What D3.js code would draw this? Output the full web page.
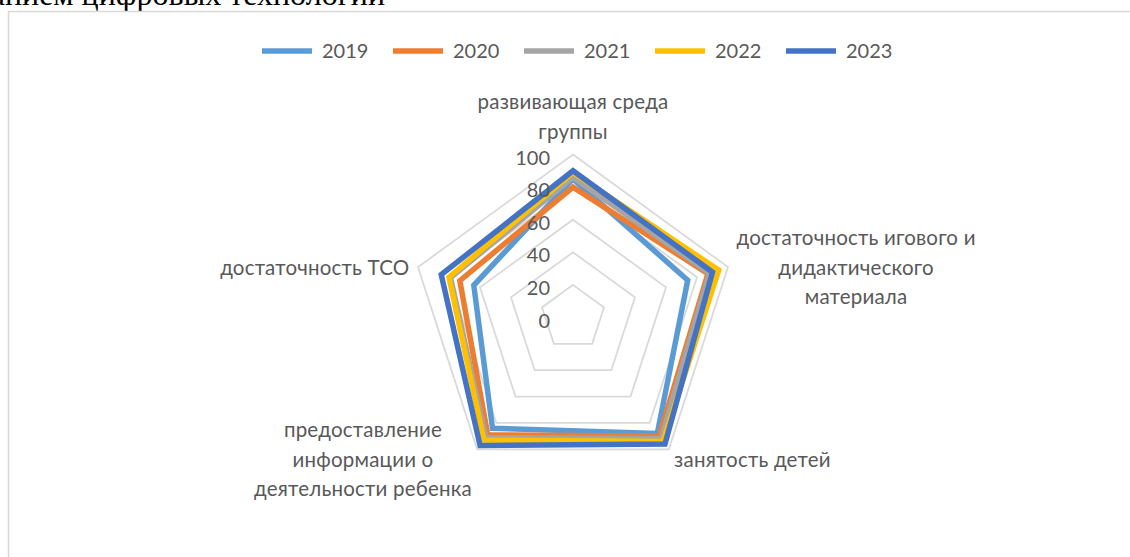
<!DOCTYPE html>
<html>
<head>
<meta charset="utf-8">
<script src="https://cdn.jsdelivr.net/npm/d3@7"></script>
<style>
  body { margin: 0; background: #fff; }
  svg { display: block; }
</style>
</head>
<body>
<div id="chart-area"></div>
<script>
var width = 1130;
var height = 557;

// data
var categories = [
  "развивающая среда\nгруппы",
  "достаточность игового и\nдидактического\nматериала",
  "занятость детей",
  "предоставление\nинформации о\nдеятельности ребенка",
  "достаточность ТСО"
];
var years = ["2019", "2020", "2021", "2022", "2023"];
var v2019 = [85, 74, 88, 84, 64];
var v2020 = [80, 87, 90, 89, 73];
var v2021 = [86, 88, 92, 91, 79];
var v2022 = [89, 94, 94, 93, 80];
var v2023 = [90, 90, 96, 97, 85];
var tickValues = [0, 20, 40, 60, 80, 100];
var colors = ["#5B9BD5", "#ED7D31", "#A5A5A5", "#FFC000", "#4472C4"];

var series = [v2019, v2020, v2021, v2022, v2023];

var cx = 573, cy = 317.5;
var textColor = "#595959";
var font = "Lato, sans-serif";

const svg = d3.select("#chart-area")
  .append("svg")
    .attr("width", width)
    .attr("height", height);

// title (cut off above the chart)
svg.append("text")
  .attr("x", 385)
  .attr("y", 5)
  .attr("text-anchor", "end")
  .style("font-family", "'Liberation Serif', 'Times New Roman', serif")
  .style("font-size", "32px")
  .attr("fill", "#000")
  .text("использованием цифровых технологий");

// chart border
svg.append("rect")
  .attr("x", 8.5).attr("y", 11.5)
  .attr("width", 1300).attr("height", 700)
  .attr("fill", "none")
  .attr("stroke", "#d9d9d9")
  .attr("stroke-width", 1.5);

const g = svg.append("g")
  .attr("transform", "translate(" + cx + "," + cy + ")");

//Scales
var r = d3.scaleLinear()
  .domain([0, 100])
  .range([0, 163]);

var angle = d3.scalePoint()
  .domain(d3.range(categories.length))
  .range([0, 2 * Math.PI * (categories.length - 1) / categories.length]);

var radar = d3.lineRadial()
  .angle((d, i) => angle(i))
  .radius(d => r(d))
  .curve(d3.curveLinearClosed);

// grid
tickValues.slice(1).forEach(t => {
  g.append("path")
    .attr("d", radar(categories.map(() => t)))
    .attr("fill", "none")
    .attr("stroke", "#d9d9d9")
    .attr("stroke-width", 1.75);
});

// series
series.forEach((s, i) => {
  g.append("path")
    .attr("d", radar(s))
    .attr("fill", "none")
    .attr("stroke", colors[i])
    .attr("stroke-width", 5.5)
    .attr("stroke-linejoin", "miter");
});

// tick labels
g.selectAll(".tick-label")
  .data(tickValues)
  .enter().append("text")
    .attr("class", "tick-label")
    .attr("x", -23)
    .attr("y", d => -r(d) + 3)
    .attr("dy", "0.35em")
    .attr("text-anchor", "end")
    .style("font-family", font)
    .style("font-size", "20px")
    .attr("fill", textColor)
    .text(d => d);

// category labels
var lineH = 29.5;
categories.forEach((c, i) => {
  var a = angle(i);
  var px = (r(100) + 9) * Math.sin(a);
  var py = -(r(100) + 9) * Math.cos(a);
  var lines = c.split("\n");
  var t = g.append("text")
    .style("font-family", font)
    .style("font-size", "20.5px")
    .style("letter-spacing", "0.2px")
    .attr("fill", textColor);
  var spans = lines.map(l => t.append("tspan").text(l));
  var w = d3.max(spans, s => s.node().getComputedTextLength());
  var midX;
  if (Math.sin(a) > 0.1) midX = px + w / 2;
  else if (Math.sin(a) < -0.1) midX = px - w / 2;
  else midX = px;
  var top;
  if (Math.cos(a) > 0.9) top = py - lines.length * lineH + 1;
  else top = py - lines.length * lineH / 2 + 3;
  spans.forEach((s, k) => {
    s.attr("x", midX)
      .attr("y", top + k * lineH + lineH / 2)
      .attr("dy", "0.35em")
      .attr("text-anchor", "middle");
  });
});

// legend
var legend = svg.append("g")
  .attr("transform", "translate(262, 51)");
years.forEach((y, i) => {
  var item = legend.append("g")
    .attr("transform", "translate(" + (i * 131) + ",0)");
  item.append("line")
    .attr("x1", 0).attr("x2", 50)
    .attr("stroke", colors[i])
    .attr("stroke-width", 5.5);
  item.append("text")
    .attr("x", 60)
    .attr("dy", "0.35em")
    .style("font-family", font)
    .style("font-size", "20px")
    .attr("fill", textColor)
    .text(y);
});
</script>
</body>
</html>
